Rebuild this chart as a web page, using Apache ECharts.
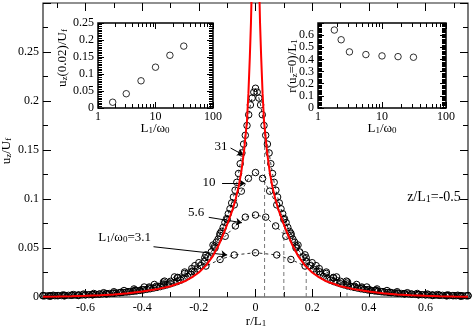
<!DOCTYPE html>
<html>
<head>
<meta charset="utf-8">
<script src="https://cdn.jsdelivr.net/npm/echarts@6/dist/echarts.min.js"></script>
<style>
html, body { margin: 0; padding: 0; background: #fff; }
#c { width: 473px; height: 331px; }
</style>
</head>
<body>
<div id="c"></div>
<script>
// ---- main panel: u_z/U_f against r/L_1 ----
// red solid curve
var redR = [-0.75,-0.7,-0.65,-0.6,-0.55,-0.5,-0.45,-0.4,-0.35,-0.3,-0.25,-0.225,-0.2,-0.175,-0.15,-0.13,-0.115,-0.1,-0.09,-0.08,-0.07,-0.06,-0.05,-0.04,-0.03,-0.025,-0.02,-0.016,-0.012,-0.008,-0.004,
  0,
  0.004,0.008,0.012,0.016,0.02,0.025,0.03,0.04,0.05,0.06,0.07,0.08,0.09,0.1,0.115,0.13,0.15,0.175,0.2,0.225,0.25,0.3,0.35,0.4,0.45,0.5,0.55,0.6,0.65,0.7,0.75];
var redU = [0.0003,0.0005,0.0008,0.0012,0.0018,0.0026,0.0038,0.0055,0.0078,0.011,0.016,0.020,0.025,0.032,0.042,0.053,0.063,0.074,0.082,0.09,0.100,0.112,0.128,0.15,0.18,0.208,0.245,0.28,0.33,0.42,0.6,
  0.9,
  0.6,0.42,0.33,0.28,0.245,0.208,0.18,0.15,0.128,0.112,0.100,0.09,0.082,0.074,0.063,0.053,0.042,0.032,0.025,0.020,0.016,0.011,0.0078,0.0055,0.0038,0.0026,0.0018,0.0012,0.0008,0.0005,0.0003];

// L1/w0 = 31 (dense circles)
var r31 = [-0.744,-0.732,-0.720,-0.708,-0.696,-0.684,-0.672,-0.660,-0.648,-0.636,-0.624,-0.612,-0.600,-0.588,-0.576,-0.564,-0.552,-0.540,-0.528,-0.516,-0.504,-0.492,-0.480,-0.468,-0.456,-0.444,-0.432,-0.420,-0.408,-0.396,-0.384,-0.372,-0.360,-0.348,-0.336,-0.324,-0.312,-0.300,-0.288,-0.276,-0.264,-0.252,-0.240,-0.228,-0.216,-0.204,-0.192,-0.180,-0.168,-0.156,
  -0.144,-0.138,-0.132,-0.126,-0.120,-0.114,-0.108,-0.102,-0.096,-0.090,-0.084,-0.078,-0.072,-0.066,-0.060,-0.054,-0.048,-0.042,-0.036,-0.030,-0.024,-0.018,-0.012,-0.006,
  0,
  0.006,0.012,0.018,0.024,0.030,0.036,0.042,0.048,0.054,0.060,0.066,0.072,0.078,0.084,0.090,0.096,0.102,0.108,0.114,0.120,0.126,0.132,0.138,0.144,
  0.156,0.168,0.180,0.192,0.204,0.216,0.228,0.240,0.252,0.264,0.276,0.288,0.300,0.312,0.324,0.336,0.348,0.360,0.372,0.384,0.396,0.408,0.420,0.432,0.444,0.456,0.468,0.480,0.492,0.504,0.516,0.528,0.540,0.552,0.564,0.576,0.588,0.600,0.612,0.624,0.636,0.648,0.660,0.672,0.684,0.696,0.708,0.720,0.732,0.744];
var u31 = [0.0012,0.0012,0.0013,0.0013,0.0014,0.0015,0.0016,0.0017,0.0018,0.0019,0.002,0.0021,0.0022,0.0024,0.0025,0.0027,0.0029,0.0031,0.0033,0.0035,0.0038,0.0041,0.0044,0.0047,0.005,0.0054,0.0058,0.0062,0.0067,0.0072,0.0078,0.0084,0.0091,0.0098,0.0106,0.0115,0.0124,0.0135,0.0146,0.0158,0.0172,0.019,0.021,0.023,0.0255,0.0285,0.032,0.036,0.041,0.046,
  0.052,0.056,0.059,0.063,0.067,0.071,0.076,0.080,0.085,0.090,0.096,0.102,0.109,0.117,0.126,0.136,0.147,0.156,0.165,0.175,0.186,0.196,0.203,0.209,
  0.213,
  0.209,0.203,0.196,0.186,0.175,0.165,0.156,0.147,0.136,0.126,0.117,0.109,0.102,0.096,0.090,0.085,0.080,0.076,0.071,0.067,0.063,0.059,0.056,0.052,
  0.046,0.041,0.036,0.032,0.0285,0.0255,0.023,0.021,0.019,0.0172,0.0158,0.0146,0.0135,0.0124,0.0115,0.0106,0.0098,0.0091,0.0084,0.0078,0.0072,0.0067,0.0062,0.0058,0.0054,0.005,0.0047,0.0044,0.0041,0.0038,0.0035,0.0033,0.0031,0.0029,0.0027,0.0025,0.0024,0.0022,0.0021,0.002,0.0019,0.0018,0.0017,0.0016,0.0015,0.0014,0.0013,0.0013,0.0012,0.0012];

// L1/w0 = 10
var r10 = [-0.75,-0.725,-0.7,-0.675,-0.65,-0.625,-0.6,-0.575,-0.55,-0.525,-0.5,-0.475,-0.45,-0.425,-0.4,-0.375,-0.35,-0.325,-0.3,-0.275,-0.25,-0.225,-0.2,-0.175,-0.15,-0.125,-0.1,-0.075,-0.05,-0.025,
  0,
  0.025,0.05,0.075,0.1,0.125,0.15,0.175,0.2,0.225,0.25,0.275,0.3,0.325,0.35,0.375,0.4,0.425,0.45,0.475,0.5,0.525,0.55,0.575,0.6,0.625,0.65,0.675,0.7,0.725,0.75];
var u10 = [0.0012,0.0013,0.0014,0.0016,0.0018,0.002,0.0023,0.0026,0.003,0.0034,0.004,0.0047,0.0055,0.0065,0.0077,0.0092,0.011,0.0133,0.016,0.0195,0.024,0.029,0.035,0.043,0.053,0.065,0.079,0.094,0.108,0.121,
  0.127,
  0.121,0.108,0.094,0.079,0.065,0.053,0.043,0.035,0.029,0.024,0.0195,0.016,0.0133,0.011,0.0092,0.0077,0.0065,0.0055,0.0047,0.004,0.0034,0.003,0.0026,0.0023,0.002,0.0018,0.0016,0.0014,0.0013,0.0012];

// L1/w0 = 5.6
var r56 = [-0.75,-0.714,-0.679,-0.643,-0.607,-0.571,-0.536,-0.5,-0.464,-0.429,-0.393,-0.357,-0.321,-0.286,-0.25,-0.214,-0.179,-0.143,-0.107,-0.071,-0.036,
  0,
  0.036,0.071,0.107,0.143,0.179,0.214,0.25,0.286,0.321,0.357,0.393,0.429,0.464,0.5,0.536,0.571,0.607,0.643,0.679,0.714,0.75];
var u56 = [0.0015,0.0018,0.0021,0.0025,0.003,0.0036,0.0044,0.0054,0.0066,0.0082,0.0102,0.0128,0.0162,0.0205,0.0255,0.032,0.040,0.050,0.062,0.0725,0.0815,
  0.0837,
  0.0815,0.0725,0.062,0.050,0.040,0.032,0.0255,0.0205,0.0162,0.0128,0.0102,0.0082,0.0066,0.0054,0.0044,0.0036,0.003,0.0025,0.0021,0.0018,0.0015];

// L1/w0 = 3.1
var r3 = [-0.725,-0.675,-0.625,-0.575,-0.525,-0.475,-0.425,-0.375,-0.325,-0.275,-0.225,-0.175,-0.125,-0.075,
  0,
  0.075,0.125,0.175,0.225,0.275,0.325,0.375,0.425,0.475,0.525,0.575,0.625,0.675,0.725];
var u3 = [0.0008,0.0011,0.0015,0.0022,0.0032,0.0046,0.0071,0.0102,0.0153,0.0200,0.0258,0.0316,0.0383,0.0429,
  0.0452,
  0.0429,0.0383,0.0316,0.0258,0.0200,0.0153,0.0102,0.0071,0.0046,0.0032,0.0022,0.0015,0.0011,0.0008];

// grey dashed drops at r = w0/L1
var dashR = [0.032, 0.1, 0.179, 0.323];
var dashTop = [0.168, 0.075, 0.036, 0.0115];

// ---- insets ----
var lwA = [1.8, 3.1, 5.6, 10, 17.8, 31];
var uzA = [0.017, 0.042, 0.080, 0.120, 0.155, 0.182];
var lwB = [1.8, 2.3, 3.1, 5.6, 10, 17.8, 31];
var rzB = [0.642, 0.562, 0.462, 0.44, 0.429, 0.423, 0.418];

// tick labels
var xMajor = [-0.6, -0.4, -0.2, 0, 0.2, 0.4, 0.6];
var xMinor = [-0.7, -0.5, -0.3, -0.1, 0.1, 0.3, 0.5, 0.7];
var logMinor = [2, 3, 4, 5, 6, 7, 8, 9, 20, 30, 40, 50, 60, 70, 80, 90];

var FONT = 'Liberation Serif';

function pairs(xs, ys) {
  return xs.map(function (x, i) { return [x, ys[i]]; });
}

var chart = echarts.init(document.getElementById('c'), null, { renderer: 'canvas' });

var noLine = { show: false, onZero: false };
var tickCol = { color: '#000', width: 1 };
var lab = { fontFamily: FONT, fontSize: 12, color: '#000' };

function xAxisOf(grid, type, pos, tick, label) {
  var a = {
    gridIndex: grid, type: type, position: pos,
    axisLine: noLine, splitLine: { show: false },
    axisTick: tick, axisLabel: label || { show: false }
  };
  if (type == 'log') { a.logBase = 10; a.min = 1; a.max = 100; }
  else { a.min = -0.75; a.max = 0.75; }
  return a;
}

function yAxisOf(grid, pos, max, interval, len, minorN, minorLen, label) {
  return {
    gridIndex: grid, type: 'value', position: pos, min: 0, max: max, interval: interval,
    axisLine: noLine, splitLine: { show: false },
    axisTick: { inside: true, length: len, lineStyle: tickCol },
    minorTick: { show: true, splitNumber: minorN, length: minorLen, lineStyle: tickCol },
    axisLabel: label || { show: false }
  };
}

var mainMajor = { inside: true, length: 8, customValues: xMajor, lineStyle: tickCol };
var mainMinor = { inside: true, length: 5, customValues: xMinor, lineStyle: tickCol };
var logMajor = { inside: true, length: 6, lineStyle: tickCol };
var logMin = { inside: true, length: 4, customValues: logMinor, lineStyle: tickCol };

var xAxes = [
  xAxisOf(0, 'value', 'bottom', mainMajor, Object.assign({ customValues: xMajor, margin: 5 }, lab)),
  xAxisOf(0, 'value', 'bottom', mainMinor),
  xAxisOf(0, 'value', 'top', mainMajor),
  xAxisOf(0, 'value', 'top', mainMinor),
  xAxisOf(1, 'log', 'bottom', logMajor, Object.assign({ margin: 3 }, lab)),
  xAxisOf(1, 'log', 'bottom', logMin),
  xAxisOf(1, 'log', 'top', logMajor),
  xAxisOf(1, 'log', 'top', logMin),
  xAxisOf(2, 'log', 'bottom', logMajor, Object.assign({ margin: 3 }, lab)),
  xAxisOf(2, 'log', 'bottom', logMin),
  xAxisOf(2, 'log', 'top', logMajor),
  xAxisOf(2, 'log', 'top', logMin)
];

var yAxes = [
  yAxisOf(0, 'left', 0.3, 0.05, 8, 2, 5, Object.assign({ margin: 4, showMaxLabel: false }, lab)),
  yAxisOf(0, 'right', 0.3, 0.05, 8, 2, 5),
  yAxisOf(1, 'left', 0.25, 0.05, 6, 10, 4, Object.assign({ margin: 4 }, lab)),
  yAxisOf(1, 'right', 0.25, 0.05, 6, 10, 4),
  yAxisOf(2, 'left', 0.7, 0.1, 6, 10, 4, Object.assign({ margin: 4, showMaxLabel: false }, lab)),
  yAxisOf(2, 'right', 0.7, 0.1, 6, 10, 4)
];

function simSeries(rs, us) {
  return {
    type: 'line', xAxisIndex: 0, yAxisIndex: 0, data: pairs(rs, us),
    symbol: 'circle', symbolSize: 6.5,
    itemStyle: { color: 'rgba(0,0,0,0)', borderColor: '#000', borderWidth: 1 },
    lineStyle: { color: '#333', width: 1, type: [3, 3] },
    z: 3, silent: true
  };
}

// annotation arrows (data coords)
var arrows = [
  [[-0.088, 0.152], [-0.043, 0.145]],
  [[-0.118, 0.116], [-0.036, 0.116]],
  [[-0.165, 0.0813], [-0.048, 0.0758]],
  [[-0.36, 0.0513], [-0.1, 0.0429]]
];

var series = [];
dashR.forEach(function (r, i) {
  series.push({
    type: 'line', xAxisIndex: 0, yAxisIndex: 0, data: [[r, 0], [r, dashTop[i]]],
    symbol: 'none', lineStyle: { color: '#777', width: 1, type: [4, 3] }, z: 2, silent: true
  });
});
series.push(simSeries(r3, u3));
series.push(simSeries(r56, u56));
series.push(simSeries(r10, u10));
series.push(simSeries(r31, u31));
series.push({
  type: 'line', xAxisIndex: 0, yAxisIndex: 0, data: pairs(redR, redU),
  symbol: 'none', lineStyle: { color: '#ff0000', width: 2 }, z: 5, silent: true,
  markLine: {
    silent: true, symbol: ['none', 'arrow'], symbolSize: 6, animation: false,
    lineStyle: { color: '#000', width: 1, type: 'solid' },
    label: { show: false },
    data: arrows.map(function (a) { return [{ coord: a[0] }, { coord: a[1] }]; })
  }
});
var insetDot = { color: 'rgba(0,0,0,0)', borderColor: '#000', borderWidth: 1 };
series.push({ type: 'scatter', xAxisIndex: 4, yAxisIndex: 2, data: pairs(lwA, uzA), symbol: 'circle', symbolSize: 6.5, itemStyle: insetDot, z: 10 });
series.push({ type: 'scatter', xAxisIndex: 8, yAxisIndex: 4, data: pairs(lwB, rzB), symbol: 'circle', symbolSize: 6.5, itemStyle: insetDot, z: 10 });

var rich = {
  m: { fontFamily: FONT, fontSize: 13, fill: '#000', lineHeight: 15, verticalAlign: 'top' },
  s: { fontFamily: FONT, fontSize: 9, fill: '#000', lineHeight: 15, verticalAlign: 'top', padding: [4, 0, 0, 0] }
};
var richBig = {
  m: { fontFamily: FONT, fontSize: 14, fill: '#000', lineHeight: 16, verticalAlign: 'top' },
  s: { fontFamily: FONT, fontSize: 10, fill: '#000', lineHeight: 16, verticalAlign: 'top', padding: [4, 0, 0, 0] }
};
function txt(x, y, text, align, rot, r) {
  return {
    type: 'text', x: x, y: y, rotation: rot || 0, z: 100, silent: true,
    style: { text: text, rich: r || rich, align: align || 'center', verticalAlign: 'middle' }
  };
}

chart.setOption({
  animation: false,
  backgroundColor: '#fff',
  grid: [
    { left: 43, right: 5, top: 3, bottom: 34, show: true, borderColor: '#222', borderWidth: 1.2, backgroundColor: 'rgba(0,0,0,0)', outerBoundsMode: 'none' },
    { left: 98, top: 23, width: 115, height: 85, show: true, borderColor: '#000', borderWidth: 1.5, backgroundColor: '#fff', outerBoundsMode: 'none' },
    { left: 318, top: 23, width: 128, height: 85, show: true, borderColor: '#000', borderWidth: 1.5, backgroundColor: '#fff', outerBoundsMode: 'none' }
  ],
  xAxis: xAxes,
  yAxis: yAxes,
  series: series,
  graphic: [
    txt(8, 151, '{m|u}{s|z}{m|/U}{s|f}', 'center', Math.PI / 2),
    txt(256, 323, '{m|r/L}{s|1}'),
    txt(64, 58, '{m|u}{s|z}{m|(0.02)/U}{s|f}', 'center', Math.PI / 2),
    txt(155, 130, '{m|L}{s|1}{m|/ω}{s|0}'),
    txt(294, 66, '{m|r(u}{s|z}{m|=0)/L}{s|1}', 'center', Math.PI / 2),
    txt(382, 130, '{m|L}{s|1}{m|/ω}{s|0}'),
    txt(221, 148, '{m|31}'),
    txt(209, 184, '{m|10}'),
    txt(196, 214, '{m|5.6}'),
    txt(151, 239, '{m|L}{s|1}{m|/ω}{s|0}{m|=3.1}', 'right'),
    txt(434, 198, '{m|z/L}{s|1}{m|=-0.5}', 'center', 0, richBig)
  ]
});
</script>
</body>
</html>
